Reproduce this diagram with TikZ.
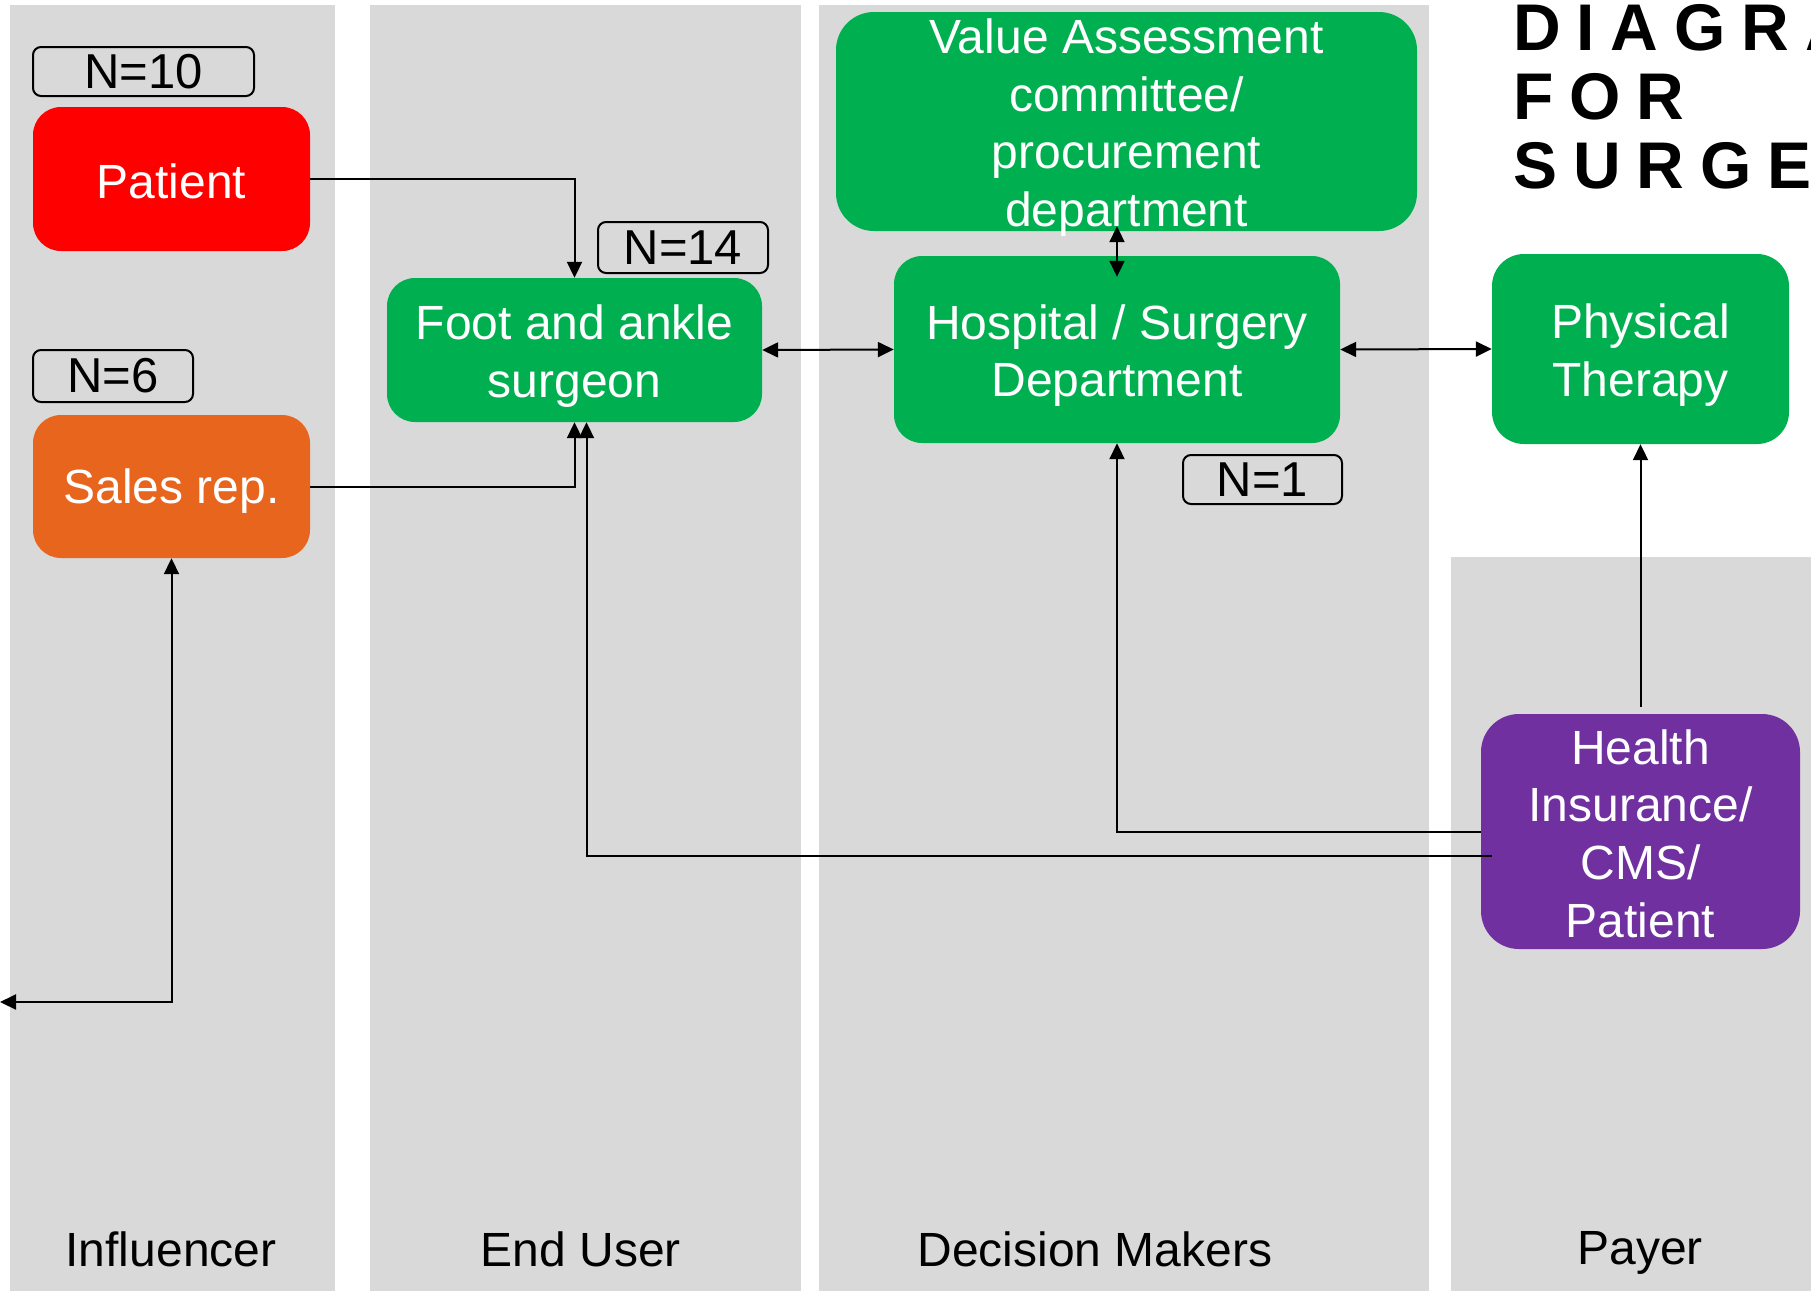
\documentclass[tikz,border=0pt]{standalone}
\usepackage{fontspec}
\setmainfont{Liberation Sans}
\newfontfamily\titlefont[LetterSpace=24]{Liberation Sans}
\usetikzlibrary{arrows.meta}
\definecolor{lanegray}{HTML}{D9D9D9}
\definecolor{boxgreen}{HTML}{00B050}
\definecolor{boxred}{HTML}{FF0000}
\definecolor{boxorange}{HTML}{E8651E}
\definecolor{boxpurple}{HTML}{7030A0}
\tikzset{
  lane/.style={fill=lanegray, draw=none},
  box/.style={draw=none, rounded corners=28pt, inner sep=0pt},
  boxtext/.style={inner sep=0pt, align=center, text=white, font=\fontsize{48}{57.6}\selectfont},
  nlabel/.style={draw=black, line width=2pt, rounded corners=8pt, inner sep=0pt,
    align=center, font=\fontsize{49}{58}\selectfont},
  lanetitle/.style={inner sep=0pt, font=\fontsize{48}{57.6}\selectfont},
  bigtitle/.style={inner sep=0pt, anchor=base west, font=\titlefont\bfseries\fontsize{66}{69}\selectfont},
  tip/.tip={Triangle[length=16pt,width=15pt]},
  arr/.style={line width=2pt, -tip},
  darr/.style={line width=2pt, tip-tip},
}
\begin{document}
\begin{tikzpicture}[x=1pt,y=-1pt]
\useasboundingbox (0,0) rectangle (1811,1291);
\clip (0,0) rectangle (1811,1291);
% lanes
\fill[lane] (10,5) rectangle (335,1291);
\fill[lane] (370,5) rectangle (801,1291);
\fill[lane] (819,5) rectangle (1429,1291);
\fill[lane] (1451,557) rectangle (1811,1291);
% lane titles
\node[lanetitle] (l1) at (171,1249) {Influencer};
\node[lanetitle] (l2) at (581,1249) {End User};
\node[lanetitle] (l3) at (1095,1249) {Decision Makers};
\node[lanetitle] (l4) at (1640,1253) {Payer};
% title
\node[bigtitle] (t1) at (1513,50) {DIAGRA};
\node[bigtitle] (t2) at (1513,119) {FOR};
\node[bigtitle] (t3) at (1513,188) {SURGE};
% boxes
\node[box, fill=boxred, minimum width=277pt, minimum height=144pt] (patient) at (171.5,179) {};
\node[box, fill=boxorange, minimum width=277pt, minimum height=143pt] (sales) at (171.5,486.5) {};
\node[box, fill=boxgreen, minimum width=375pt, minimum height=144pt] (surgeon) at (574.5,350) {};
\node[box, fill=boxgreen, minimum width=446pt, minimum height=187pt] (hospital) at (1117,349.5) {};
\node[box, fill=boxgreen, rounded corners=38pt, minimum width=581pt, minimum height=219pt] (va) at (1126.5,121.5) {};
\node[box, fill=boxgreen, rounded corners=32pt, minimum width=297pt, minimum height=190pt] (pt) at (1640.5,349) {};
\node[box, fill=boxpurple, rounded corners=38pt, minimum width=319pt, minimum height=235pt] (hi) at (1640.5,831.5) {};
% box texts
\node[boxtext] (patientt) at ([yshift=-2pt]patient.center) {Patient};
\node[boxtext] (salest) at ([yshift=-5pt]sales.center) {Sales rep.};
\node[boxtext] (surgeont) at ([yshift=-6pt]surgeon.center) {Foot and ankle\\surgeon};
\node[boxtext] (hospitalt) at ([yshift=-6pt]hospital.center) {Hospital / Surgery\\Department};
\node[boxtext] (vat) at ([yshift=-6pt]va.center) {Value Assessment\\committee/\\procurement\\department};
\node[boxtext] (ptt) at ([yshift=-6pt]pt.center) {Physical\\Therapy};
\node[boxtext] (hit) at ([yshift=-2pt]hi.center) {Health\\Insurance/\\CMS/\\Patient};
% N labels
\node[nlabel, minimum width=221pt, minimum height=49pt] (n10) at (143.5,71.5) {\raisebox{-1pt}{N=10}};
\node[nlabel, minimum width=160pt, minimum height=52pt] (n6) at (113,376) {\raisebox{-1pt}{N=6}};
\node[nlabel, minimum width=170pt, minimum height=51pt] (n14) at (683,247.5) {\raisebox{-2pt}{N=14}};
\node[nlabel, minimum width=159pt, minimum height=49pt] (n1) at (1262.5,479.5) {\raisebox{-1pt}{N=1}};
% connectors
\coordinate (offleft) at (0,1002);
\draw[arr] (patient.east) -| (surgeon.north);
\draw[arr] (sales.east) -| (surgeon.south);
\draw[arr] ([yshift=-24pt,xshift=11pt]hi.west) -| ([xshift=12pt]surgeon.south);
\draw[arr] (hi.west) -| (hospital.south);
\draw[arr] ([yshift=7pt]hi.north) -- (pt.south);
\draw[darr] (surgeon.east) -- (hospital.west);
\draw[darr] (hospital.east) -- (pt.west);
\draw[darr] ([yshift=5pt]hospital.north |- va.south) -- ([yshift=-21pt]hospital.north);
\draw[darr] (sales.south) |- (offleft);
\end{tikzpicture}
\end{document}
